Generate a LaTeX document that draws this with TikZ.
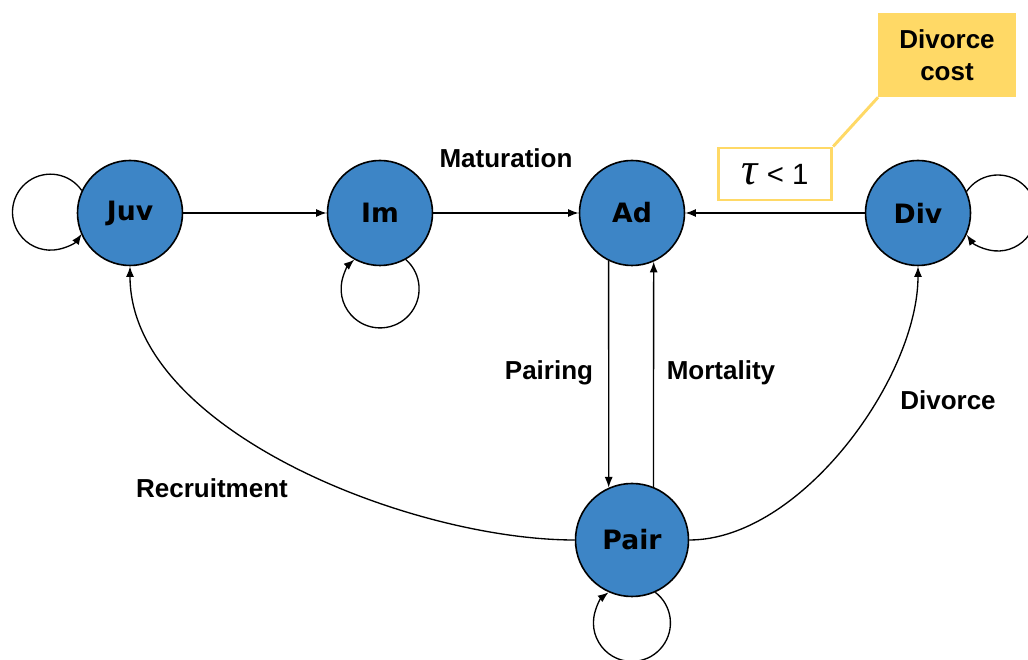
\documentclass[tikz,border=0pt]{standalone}
\usepackage{fontspec}
\setmainfont{Liberation Sans}
\newfontfamily\statefont{DejaVu Sans}
\newfontfamily\greekfont{Liberation Serif}
\usepackage{xcolor}
\usetikzlibrary{positioning,calc,arrows.meta}
\definecolor{stateblue}{HTML}{3D85C6}
\definecolor{costyellow}{HTML}{FFD966}

\begin{document}
\begin{tikzpicture}[x=0.75pt, y=0.75pt, >={Latex[length=8pt,width=6pt]},
    state/.style={circle, draw, line width=1.2pt, fill=stateblue, minimum size=78.75pt,
        inner sep=0pt, font=\statefont\bfseries\fontsize{20}{23}\selectfont},
    lbl/.style={font=\bfseries\fontsize{19.5}{23}\selectfont},
    edge/.style={->, line width=1pt}]
    \useasboundingbox (0,0) rectangle (1028,660);

    % states
    \node[state] (juv) at (130,447) {Juv};
    \node[state] (im) at (380,447) {Im};
    \node[state] (ad) at (632,447) {Ad};
    \node[state] (div) at (918,447) {Div};
    \node[state, minimum size=84.75pt] (pair) at (632,120) {Pair};

    % transitions
    \draw[edge] (juv) -- (im);
    \draw[edge] (im) -- (ad);
    \draw[edge] (div) -- (ad);
    \draw[edge] (ad.244) -- (pair.114);
    \draw[edge] (pair.68) -- (ad.294);
    \draw[edge] (pair.west) to[out=180, in=-90, looseness=0.8] (juv.south);
    \draw[edge] (pair.east) to[out=0, in=-90, looseness=0.8] (div.south);

    % staying in the same state
    \draw[edge] (juv.155.6) arc[start angle=34.8, end angle=325.2, radius=38];
    \draw[edge] (im.299.4) arc[start angle=48.7, end angle=-228.7, radius=39];
    \draw[edge] (pair.294.5) arc[start angle=52.6, end angle=-232.6, radius=38.5];
    \draw[edge] (div.24.4) arc[start angle=145.2, end angle=-145.2, radius=38];

    % labels
    \node[lbl] (mat) at (506,502) {Maturation};
    \node[lbl] (pairing) at (549,287) {Pairing};
    \node[lbl] (mort) at (721,287) {Mortality};
    \node[lbl] (recr) at (212,172) {Recruitment};
    \node[lbl] (divorce) at (948,260) {Divorce};

    % divorce cost
    \node[draw=costyellow, line width=2.2pt, fill=white, minimum width=85pt, minimum height=39pt,
        inner sep=0pt] (tau) at (775,486)
        {{\greekfont\itshape\fontsize{34}{38}\selectfont τ}\hspace{7pt}\fontsize{22}{26}\selectfont< 1};
    \node[lbl, fill=costyellow, minimum width=103pt, minimum height=63pt, align=center,
        inner sep=0pt] (cost) at (947,605) {Divorce\\[1pt]cost};
    \draw[costyellow, line width=2.2pt] (cost.south west) -- (tau.north east);
\end{tikzpicture}
\end{document}
